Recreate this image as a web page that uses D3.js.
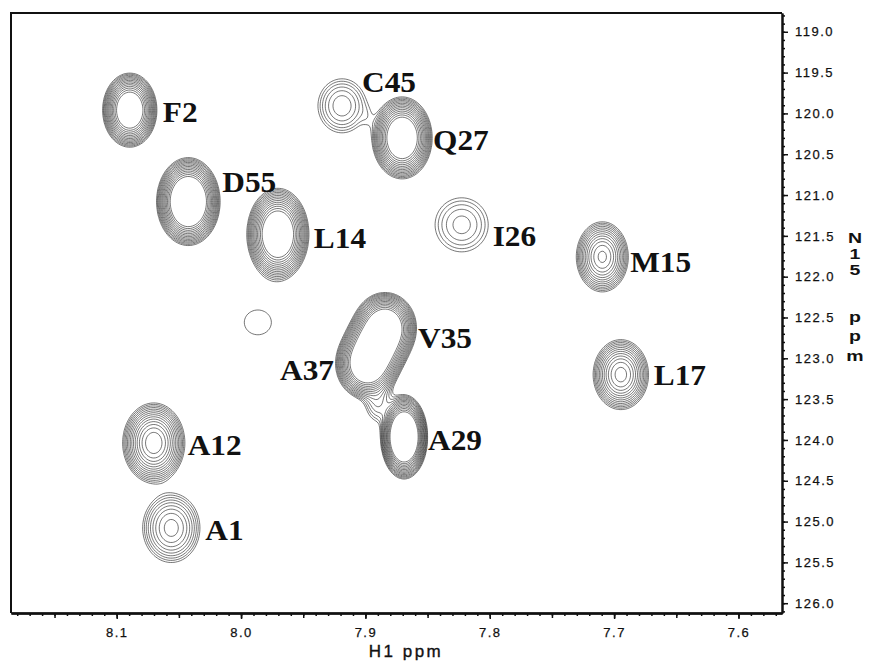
<!DOCTYPE html>
<html>
<head>
<meta charset="utf-8">
<script src="https://cdn.jsdelivr.net/npm/d3@7"></script>
<style>
  body { margin: 0; background: #fff; }
  svg { display: block; font-family: Arial, "Liberation Sans", sans-serif; }
</style>
</head>
<body>
<svg id="chart" width="869" height="667"></svg>
<script>
// peak list (H1 / N15 shifts in ppm, linewidths in ppm, log height above lowest level)
// unlabelled entries: the weak peak near 7.99/122.6, the centre of the V35/A37 overlap,
// and the overlap intensity between C45/Q27 and A37/A29
const peakLabels = ['F2', 'C45', 'Q27', 'D55', 'L14', 'I26', 'M15', 'V35', '', 'A37', 'L17', 'A12', 'A29', 'A1', '', '', ''];
const h1Shift   = [8.0895, 7.9188, 7.8705, 8.0424, 7.9704, 7.8226, 7.7095, 7.8842, 7.8915, 7.8987, 7.6946, 8.0702, 7.8689, 8.0561, 7.9865, 7.898, 7.8899];
const n15Shift  = [119.96, 119.907, 120.30, 121.08, 121.48, 121.365, 121.757, 122.627, 122.848, 123.069, 123.20, 124.037, 123.963, 125.078, 122.56, 120.054, 123.534];
const h1Width   = [0.0079, 0.0120, 0.00865, 0.0087, 0.00893, 0.0151, 0.0089, 0.0089, 0.0089, 0.0089, 0.0094, 0.0100, 0.0063, 0.0118, 0.0222, 0.0040, 0.0072];
const n15Width  = [0.1645, 0.205, 0.1796, 0.1835, 0.2013, 0.234, 0.183, 0.153, 0.153, 0.153, 0.181, 0.196, 0.1718, 0.217, 0.31, 0.12, 0.17];
const logHeight = [3.8, 1.30, 3.9, 4.3, 3.9, 1.0, 2.75, 4.0, 4.0, 4.0, 2.8, 3.12, 4.5, 1.9, 0.12, -0.75, 0.9];

const xTickLabels = ['8.1', '8.0', '7.9', '7.8', '7.7', '7.6'];
const yTickLabels = ['119.0', '119.5', '120.0', '120.5', '121.0', '121.5', '122.0', '122.5',
                     '123.0', '123.5', '124.0', '124.5', '125.0', '125.5', '126.0'];

// label placement relative to the peak centre (px)
const labelOffset = {
  F2: [33, 12], C45: [20, -14], Q27: [31, 12], D55: [34, -10], L14: [36, 14], I26: [31, 21],
  M15: [28, 15], V35: [33, 20], A37: [-33, 16, 'end'], L17: [33, 10], A12: [34, 12], A29: [24, 13], A1: [34, 12]
};

const svg = d3.select('#chart');
const plot = { left: 11, right: 782, top: 13, bottom: 613 };

const x = d3.scaleLinear().domain([8.185, 7.565]).range([plot.left, plot.right]);
const y = d3.scaleLinear().domain([118.77, 126.12]).range([plot.top, plot.bottom]);

// intensity grid from the peak list
const nx = 460, ny = 340;
const gx = d3.scaleLinear().domain([0, nx - 1]).range(x.domain());
const gy = d3.scaleLinear().domain([0, ny - 1]).range(y.domain());
const values = new Float64Array(nx * ny);
for (let j = 0; j < ny; j++) {
  const n = gy(j);
  for (let i = 0; i < nx; i++) {
    const h = gx(i);
    let v = 0;
    for (let k = 0; k < h1Shift.length; k++) {
      const dh = (h - h1Shift[k]) / h1Width[k];
      const dn = (n - n15Shift[k]) / n15Width[k];
      v += Math.exp(logHeight[k] - 0.5 * (dh * dh + dn * dn));
    }
    values[j * nx + i] = v;
  }
}
const levels = d3.range(14).map(k => Math.pow(1.25, k));
const contours = d3.contours().size([nx, ny]).thresholds(levels)(values);

const toPlot = d3.geoTransform({
  point(px, py) { this.stream.point(x(gx(px - 0.5)), y(gy(py - 0.5))); }
});
const path = d3.geoPath(toPlot);

svg.append('clipPath').attr('id', 'clip')
  .append('rect')
    .attr('x', plot.left).attr('y', plot.top)
    .attr('width', plot.right - plot.left).attr('height', plot.bottom - plot.top);

svg.append('g')
    .attr('class', 'contours')
    .attr('clip-path', 'url(#clip)')
  .selectAll('path')
  .data(contours)
  .join('path')
    .attr('d', path)
    .attr('fill', 'none')
    .attr('stroke', '#1a1a1a')
    .attr('stroke-width', 0.6);

// peak labels
const labelG = svg.append('g').attr('class', 'labels');
peakLabels.forEach((lab, k) => {
  if (!lab) return;
  const [dx, dy, anchor] = labelOffset[lab];
  labelG.append('text')
    .attr('transform', `translate(${x(h1Shift[k]) + dx},${y(n15Shift[k]) + dy}) scale(1.08,1)`)
    .attr('text-anchor', anchor || 'start')
    .style('font-family', '"Liberation Serif", "Times New Roman", serif')
    .style('font-weight', 'bold')
    .style('font-size', '29px')
    .attr('fill', '#111')
    .text(lab);
});

// frame (top / left)
svg.append('path')
  .attr('d', `M${plot.left},${plot.bottom}V${plot.top}H${plot.right}`)
  .attr('fill', 'none').attr('stroke', '#111').attr('stroke-width', 2);

// bottom axis: minor 0.01, mid 0.05, major 0.1
const xMinor = d3.range(757, 819).map(v => v / 100);
const xMid = xMinor.filter(v => Math.round(v * 100) % 5 === 0);
const xMajor = xTickLabels.map(Number);

function styleAxis(g) {
  g.select('.domain').attr('stroke', '#111').attr('stroke-width', 2);
  g.selectAll('.tick line').attr('stroke', '#111').attr('stroke-width', 1.5);
  g.selectAll('.tick text')
    .attr('fill', '#111')
    .attr('stroke', '#111')
    .attr('stroke-width', 0.25)
    .style('font-size', '13px')
    .style('letter-spacing', '1.5px');
}

const bottom = svg.append('g').attr('transform', `translate(0,${plot.bottom})`);
bottom.append('g').call(d3.axisBottom(x).tickValues(xMinor).tickSize(3).tickFormat('').tickSizeOuter(0)).call(styleAxis);
bottom.append('g').call(d3.axisBottom(x).tickValues(xMid).tickSize(5).tickFormat('').tickSizeOuter(0)).call(styleAxis);
bottom.append('g')
  .call(d3.axisBottom(x).tickValues(xMajor).tickSize(6).tickPadding(9)
    .tickFormat((d, i) => xTickLabels[i]).tickSizeOuter(0))
  .call(styleAxis);

// right axis: minor 0.1, major 0.5
const yMinor = d3.range(1188, 1262).map(v => v / 10);
const yMajor = yTickLabels.map(Number);
const right = svg.append('g').attr('transform', `translate(${plot.right},0)`);
right.append('g').call(d3.axisRight(y).tickValues(yMinor).tickSize(3).tickFormat('').tickSizeOuter(0)).call(styleAxis);
right.append('g')
  .call(d3.axisRight(y).tickValues(yMajor).tickSize(6).tickPadding(7)
    .tickFormat((d, i) => yTickLabels[i]).tickSizeOuter(0))
  .call(styleAxis);

// axis titles
svg.append('text')
  .attr('x', 406).attr('y', 657)
  .attr('text-anchor', 'middle')
  .style('font-size', '17px')
  .style('letter-spacing', '2.5px')
  .attr('fill', '#111')
  .attr('stroke', '#111')
  .attr('stroke-width', 0.35)
  .text('H1 ppm');

// N15 ppm, written as stacked letters
[['N', 243], ['1', 259], ['5', 275], ['p', 322], ['p', 341], ['m', 361]].forEach(([ch, yy]) => {
  svg.append('text')
    .attr('transform', `translate(855,${yy}) scale(1.3,1)`)
    .attr('text-anchor', 'middle')
    .style('font-size', '15px')
    .style('font-weight', 'bold')
    .attr('fill', '#111')
    .text(ch);
});
</script>
</body>
</html>
